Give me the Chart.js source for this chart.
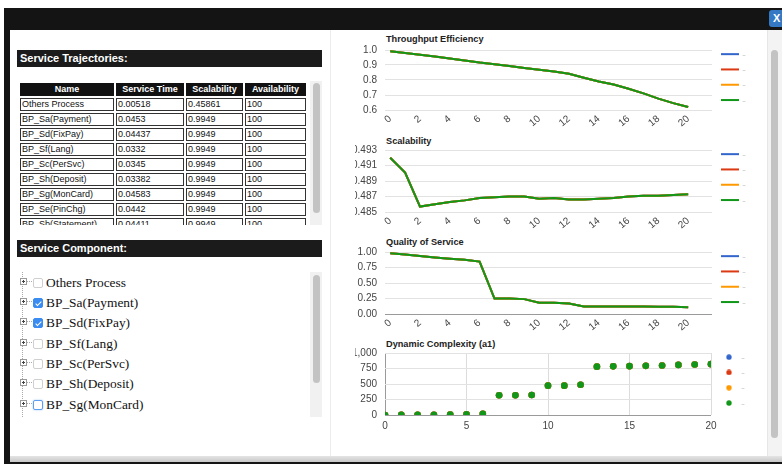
<!DOCTYPE html>
<html lang="en">
<head>
  <meta charset="UTF-8" />
  <title>Service Trajectories</title>
  <script src="https://cdn.jsdelivr.net/npm/chart.js"></script>
  <style>
    html, body { margin: 0; padding: 0; background: #fff; }
    body { width: 782px; height: 467px; position: relative; overflow: hidden; font-family: Arial, "Liberation Sans", Helvetica, sans-serif; }
    .abs { position: absolute; }
    .frame { left: 4px; top: 8px; width: 800px; height: 456px; background: #141414; }
    .content { left: 10px; top: 30px; width: 772px; height: 426px; background: #fff; }
    .band { left: 10px; top: 456px; width: 772px; height: 6px; background: linear-gradient(#e4e4e4, #c8c8c8); }
    .close { left: 769px; top: 10px; width: 20px; height: 17px; background: #3579c5; border-radius: 3px; color: #fff; font-weight: bold; font-size: 11px; line-height: 17px; padding-left: 4px; box-sizing: border-box; }
    .bar { left: 17px; width: 305px; height: 17px; background: #1b1b1b; color: #fff; font-weight: bold; font-size: 11px; line-height: 17px; padding-left: 3px; box-sizing: border-box; }
    .wrap { left: 18px; width: 304px; overflow: hidden; background: #fff; }
    .track { position: absolute; left: 292px; top: 0; width: 12px; bottom: 0; background: #f1f1f1; }
    .thumb { position: absolute; left: 3px; width: 7px; background: #c3c3c3; border-radius: 4px; }
    .traj { position: absolute; left: 0; top: 0; border-collapse: separate; border-spacing: 2px; table-layout: fixed; font-size: 9px; color: #111; }
    .traj th { background: #111; color: #fff; font-weight: bold; height: 13px; padding: 0; line-height: 13px; text-align: center; box-sizing: border-box; }
    .traj td { border: 1px solid #333; height: 13px; padding: 0 0 0 1px; line-height: 11px; box-sizing: border-box; white-space: nowrap; overflow: hidden; }
    .item { position: absolute; left: 0; width: 290px; height: 20px; }
    .exp { position: absolute; left: 2px; top: 5px; width: 5px; height: 5px; border: 1px solid #9a9a9a; background: #fff; }
    .exp::before { content: ''; position: absolute; left: 1px; top: 2px; width: 3px; height: 1px; background: #444; }
    .exp::after { content: ''; position: absolute; left: 2px; top: 1px; width: 1px; height: 3px; background: #444; }
    .hline { position: absolute; left: 9px; top: 8px; width: 5px; border-top: 1px dotted #aaa; }
    .vline { position: absolute; left: 4px; top: 0; bottom: 0; border-left: 1px dotted #aaa; }
    .cb { position: absolute; left: 15px; top: 5px; width: 10px; height: 10px; border: 1px solid #cfcfcf; border-radius: 2px; box-sizing: border-box; background: #fff; }
    .cb.on { background: #3b8cf0; border-color: #3b8cf0; }
    .cb.on::after { content: ''; position: absolute; left: 2.5px; top: 0.5px; width: 2px; height: 5px; border: solid #fff; border-width: 0 1.5px 1.5px 0; transform: rotate(45deg); }
    .cb.focus { border: 1.5px solid #5b9ef0; box-shadow: 0 0 2px #9cc4f5; }
    .lbl { position: absolute; left: 28px; top: 0; line-height: 20px; font-family: "Times New Roman", "Liberation Serif", serif; font-size: 13.4px; color: #111; white-space: nowrap; }
    .divider { left: 330px; top: 30px; width: 1px; height: 426px; background: #ececec; }
    .ctitle { left: 386px; font-size: 9.2px; font-weight: bold; color: #222; line-height: 12px; white-space: nowrap; }
    canvas { position: absolute; left: 355px; }
    .vtrack { left: 767px; top: 30px; width: 15px; height: 426px; background: #f3f3f3; border-left: 1px solid #e6e6e6; box-sizing: border-box; }
    .vthumb { left: 771px; top: 50px; width: 7px; height: 388px; background: #c3c3c3; border-radius: 4px; }
  </style>
</head>
<body>
  <div class="abs frame"></div>
  <div class="abs content"></div>
  <div class="abs band"></div>
  <div class="abs close">X</div>
  <div class="abs divider"></div>

  <div class="abs bar" style="top:50px">Service Trajectories:</div>
  <div class="abs wrap" style="top:81px; height:144px">
    <table class="traj">
      <thead><tr>
        <th style="width:94px">Name</th><th style="width:68px">Service Time</th><th style="width:57px">Scalability</th><th style="width:61px">Availability</th>
      </tr></thead>
      <tbody id="trajBody"></tbody>
    </table>
    <div class="track"><div class="thumb" style="top:2px; height:130px"></div></div>
  </div>

  <div class="abs bar" style="top:240px">Service Component:</div>
  <div class="abs wrap" style="top:272px; height:145px" id="tree">
    <div class="vline"></div>
    <div class="track"><div class="thumb" style="top:3px; height:108px"></div></div>
  </div>

  <div class="abs ctitle" style="top:33px">Throughput Efficiency</div>
  <div class="abs ctitle" style="top:135px">Scalability</div>
  <div class="abs ctitle" style="top:236px">Quality of Service</div>
  <div class="abs ctitle" style="top:338px">Dynamic Complexity (a1)</div>

  <canvas id="c1" width="397" height="88" style="top:42px"></canvas>
  <canvas id="c2" width="397" height="90" style="top:142px"></canvas>
  <canvas id="c3" width="397" height="90" style="top:244px"></canvas>
  <canvas id="c4" width="396" height="88" style="top:345px"></canvas>

  <div class="abs vtrack"></div>
  <div class="abs vthumb"></div>

  <script>
    // Tabellen-Daten
    const trajNames = ['Others Process', 'BP_Sa(Payment)', 'BP_Sd(FixPay)', 'BP_Sf(Lang)', 'BP_Sc(PerSvc)', 'BP_Sh(Deposit)', 'BP_Sg(MonCard)', 'BP_Se(PinChg)', 'BP_Sb(Statement)'];
    const trajTime = ['0.00518', '0.0453', '0.04437', '0.0332', '0.0345', '0.03382', '0.04583', '0.0442', '0.04411'];
    const trajScal = ['0.45861', '0.9949', '0.9949', '0.9949', '0.9949', '0.9949', '0.9949', '0.9949', '0.9949'];
    const trajAvail = ['100', '100', '100', '100', '100', '100', '100', '100', '100'];

    const componentNames = ['Others Process', 'BP_Sa(Payment)', 'BP_Sd(FixPay)', 'BP_Sf(Lang)', 'BP_Sc(PerSvc)', 'BP_Sh(Deposit)', 'BP_Sg(MonCard)'];
    const componentChecked = [false, true, true, false, false, false, false];

    // Chart-Daten
    const steps = [0, 1, 2, 3, 4, 5, 6, 7, 8, 9, 10, 11, 12, 13, 14, 15, 16, 17, 18, 19, 20];
    const throughput = [0.991, 0.980, 0.969, 0.956, 0.943, 0.930, 0.916, 0.905, 0.894, 0.880, 0.868, 0.857, 0.842, 0.815, 0.790, 0.770, 0.742, 0.711, 0.676, 0.646, 0.620];
    const scalability = [0.4920, 0.4901, 0.4857, 0.4860, 0.4863, 0.4865, 0.4868, 0.4869, 0.4870, 0.4870, 0.4867, 0.4868, 0.4866, 0.4866, 0.4867, 0.4868, 0.4870, 0.4871, 0.4871, 0.4872, 0.4873];
    const qos = [0.98, 0.96, 0.935, 0.91, 0.89, 0.875, 0.845, 0.25, 0.25, 0.24, 0.18, 0.18, 0.17, 0.12, 0.12, 0.12, 0.12, 0.12, 0.115, 0.115, 0.11];
    const complexity = [0, 2, 3, 5, 8, 10, 20, 318, 318, 322, 473, 473, 489, 780, 785, 788, 793, 799, 808, 814, 820];

    const lineXTicks = [0, 2, 4, 6, 8, 10, 12, 14, 16, 18, 20];
    const scatterXTicks = [0, 5, 10, 15, 20];
    const throughputTicks = [0.6, 0.7, 0.8, 0.9, 1.0];
    const scalabilityTicks = [0.485, 0.487, 0.489, 0.491, 0.493];
    const qosTicks = [0, 0.25, 0.5, 0.75, 1];
    const complexityTicks = [0, 250, 500, 750, 1000];

    const seriesNames = ['..', '..', '..', '..'];
    const seriesColors = ['#3366cc', '#dc3912', '#ff9900', '#109618'];

    // Tabelle aufbauen
    const tbody = document.getElementById('trajBody');
    trajNames.forEach((n, i) => {
      const tr = document.createElement('tr');
      [n, trajTime[i], trajScal[i], trajAvail[i]].forEach(t => {
        const td = document.createElement('td');
        td.textContent = t;
        tr.appendChild(td);
      });
      tbody.appendChild(tr);
    });

    // Baum aufbauen
    const tree = document.getElementById('tree');
    componentNames.forEach((n, i) => {
      const it = document.createElement('div');
      it.className = 'item';
      it.style.top = (0.7 + i * 20.3) + 'px';
      let cls = 'cb' + (componentChecked[i] ? ' on' : '') + (i === componentNames.length - 1 ? ' focus' : '');
      it.innerHTML = '<div class="exp"></div><div class="hline"></div><div class="' + cls + '"></div><div class="lbl"></div>';
      it.querySelector('.lbl').textContent = n;
      tree.appendChild(it);
    });

    // Chart.js
    Chart.defaults.font.family = 'Arial, "Liberation Sans", sans-serif';
    Chart.defaults.font.size = 10;
    Chart.defaults.color = '#444';

    function fixTicks(list) {
      return scale => { scale.ticks = list.map(v => ({ value: v })); };
    }

    function dot(color) {
      const c = document.createElement('canvas');
      c.width = 6; c.height = 6;
      const g = c.getContext('2d');
      g.fillStyle = color;
      g.beginPath(); g.arc(3, 3, 2.7, 0, Math.PI * 2); g.fill();
      return c;
    }

    function buildDatasets(values, scatter) {
      const pts = steps.map((x, i) => ({ x: x, y: values[i] }));
      const sets = seriesColors.map((c, i) => ({
        label: seriesNames[i],
        data: pts,
        borderColor: c,
        backgroundColor: c,
        borderWidth: scatter ? 0 : 2,
        pointRadius: scatter ? 3.3 : 0,
        showLine: !scatter,
        tension: 0
      }));
      return sets.reverse(); // letzte Serie oben zeichnen
    }

    function drawChart(id, cfg) {
      const scatter = !!cfg.scatter;
      const labels = { usePointStyle: true, pointStyle: 'line', pointStyleWidth: 18, font: { size: 6.3 }, padding: 9, color: '#888' };
      if (scatter) {
        labels.generateLabels = chart => Chart.defaults.plugins.legend.labels.generateLabels(chart)
          .map(item => Object.assign(item, { pointStyle: dot(item.fillStyle) }));
      }
      return new Chart(document.getElementById(id), {
        type: scatter ? 'scatter' : 'line',
        data: { datasets: buildDatasets(cfg.values, scatter) },
        options: {
          responsive: false,
          animation: false,
          layout: { padding: 0 },
          plugins: {
            tooltip: { enabled: false },
            legend: { position: 'right', align: 'start', reverse: true, maxWidth: 40, labels: labels }
          },
          scales: {
            x: {
              type: 'linear',
              min: cfg.xMin, max: cfg.xMax,
              afterBuildTicks: fixTicks(cfg.xTicks),
              afterFit: s => { s.height = cfg.xHeight; },
              border: { display: false },
              grid: { display: scatter, drawTicks: false, color: c => (c.tick && c.tick.value === 0) ? '#9a9a9a' : '#dcdcdc' },
              ticks: { autoSkip: false, minRotation: cfg.rot, maxRotation: cfg.rot, padding: cfg.xPad, color: '#444', callback: v => String(v) }
            },
            y: {
              min: cfg.yTicks[0], max: cfg.yTicks[cfg.yTicks.length - 1],
              afterBuildTicks: fixTicks(cfg.yTicks),
              afterFit: s => { s.width = 30; },
              border: { display: false },
              grid: {
                drawTicks: true, tickLength: 8, tickColor: 'transparent',
                color: c => (cfg.base && c.tick && c.tick.value === 0) ? '#9a9a9a' : '#e2e2e2'
              },
              ticks: { autoSkip: false, padding: 0, color: '#444', font: { size: 10, lineHeight: 1.6 }, callback: cfg.yFmt }
            }
          }
        }
      });
    }

    drawChart('c1', { values: throughput, xMin: -0.35, xMax: 21.6, xTicks: lineXTicks, xHeight: 20, rot: 40, xPad: 3,
      yTicks: throughputTicks, yFmt: v => v.toFixed(1) });
    drawChart('c2', { values: scalability, xMin: -0.35, xMax: 21.6, xTicks: lineXTicks, xHeight: 20, rot: 40, xPad: 3,
      yTicks: scalabilityTicks, yFmt: v => v.toFixed(3) });
    drawChart('c3', { values: qos, xMin: -0.35, xMax: 21.6, xTicks: lineXTicks, xHeight: 20, rot: 40, xPad: 3, base: true,
      yTicks: qosTicks, yFmt: v => v.toFixed(2) });
    drawChart('c4', { values: complexity, scatter: true, xMin: 0, xMax: 20, xTicks: scatterXTicks, xHeight: 18, rot: 0, xPad: 5, base: true,
      yTicks: complexityTicks, yFmt: v => v.toLocaleString('en-US') });
  </script>
</body>
</html>
